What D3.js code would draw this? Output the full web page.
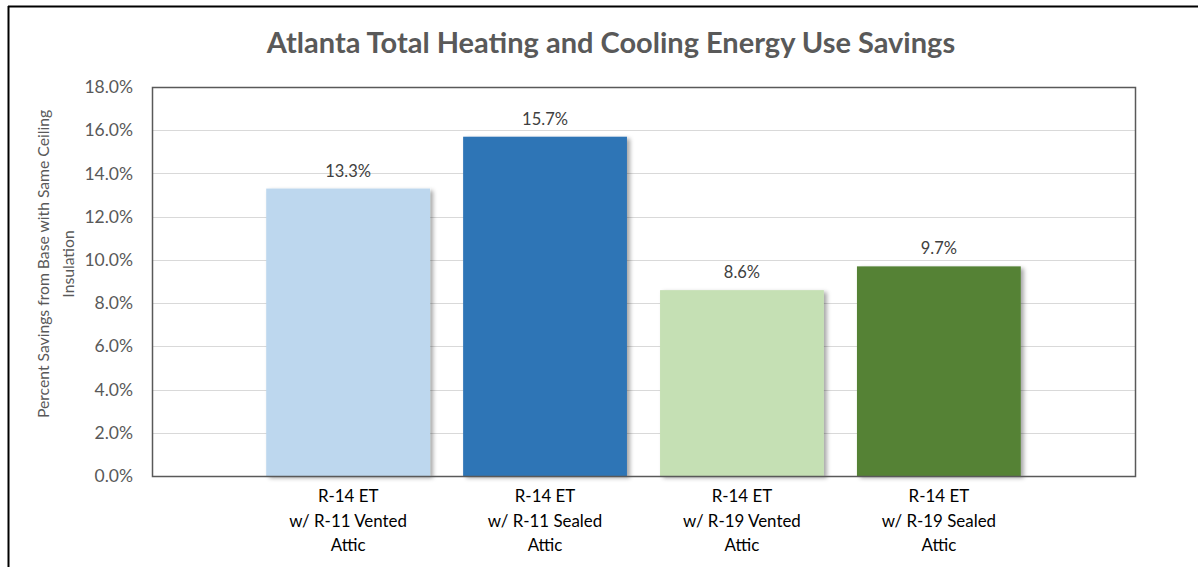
<!DOCTYPE html>
<html><head><meta charset="utf-8">
<script src="https://cdn.jsdelivr.net/npm/d3@7"></script>
<style>
html,body{margin:0;padding:0;background:#fff;}
svg{display:block;font-family:Lato,"Open Sans",sans-serif;}
</style></head>
<body><svg id="chart" width="1198" height="567"></svg>
<script>
const categories = [
  ["R-14 ET", "w/ R-11 Vented", "Attic"],
  ["R-14 ET", "w/ R-11 Sealed", "Attic"],
  ["R-14 ET", "w/ R-19 Vented", "Attic"],
  ["R-14 ET", "w/ R-19 Sealed", "Attic"]
];
const values = [13.3, 15.7, 8.6, 9.7];
const colors = ["#bdd7ee", "#2e75b6", "#c5e0b4", "#548235"];
const yTicks = [0, 2, 4, 6, 8, 10, 12, 14, 16, 18];
const title = "Atlanta Total Heating and Cooling Energy Use Savings";
const yTitle = ["Percent Savings from Base with Same Ceiling", "Insulation"];

const svg = d3.select("#chart");
const plot = {left: 152, right: 1135, top: 87, bottom: 476};

const defs = svg.append("defs");
const f = defs.append("filter").attr("id", "shadow").attr("x", "-10%").attr("y", "-10%").attr("width", "130%").attr("height", "130%");
f.append("feDropShadow").attr("dx", 3).attr("dy", 2).attr("stdDeviation", 2).attr("flood-color", "#000").attr("flood-opacity", 0.35);

// outer frame (top and left)
svg.append("line").attr("x1", 8).attr("x2", 1198).attr("y1", 6.5).attr("y2", 6.5).attr("stroke", "#000").attr("stroke-width", 2);
svg.append("line").attr("x1", 8.5).attr("x2", 8.5).attr("y1", 6).attr("y2", 567).attr("stroke", "#000").attr("stroke-width", 2);

const idx = categories.map((d, i) => i);
const x = d3.scaleBand().domain(idx).range([plot.left, plot.right]).paddingInner(0.168).paddingOuter(0.58);
const y = d3.scaleLinear().domain([0, 18]).range([plot.bottom, plot.top]);

// gridlines
svg.append("g").selectAll("line").data(yTicks.filter(t => t > 0 && t < 18)).join("line")
  .attr("x1", plot.left).attr("x2", plot.right)
  .attr("y1", d => Math.round(y(d)) + 0.5).attr("y2", d => Math.round(y(d)) + 0.5)
  .attr("stroke", "#d9d9d9").attr("stroke-width", 1);

// bars
svg.append("g").selectAll("rect").data(values).join("rect")
  .attr("x", (d, i) => x(i)).attr("width", x.bandwidth())
  .attr("y", d => y(d)).attr("height", d => y(0) - y(d))
  .attr("fill", (d, i) => colors[i]).attr("filter", "url(#shadow)");

// plot border
svg.append("rect").attr("x", plot.left + 0.5).attr("y", plot.top + 0.5)
  .attr("width", plot.right - plot.left).attr("height", plot.bottom - plot.top)
  .attr("fill", "none").attr("stroke", "#595959").attr("stroke-width", 1.5);

// y axis
const yAxis = d3.axisLeft(y).tickValues(yTicks).tickFormat(d => d.toFixed(1) + "%").tickSize(0).tickPadding(0);
const ya = svg.append("g").attr("transform", `translate(133,0)`).call(yAxis);
ya.select(".domain").remove();
ya.selectAll("text").attr("fill", "#595959").attr("font-size", 17.5).attr("font-family", "Lato,sans-serif");

// value labels
svg.append("g").selectAll("text").data(values).join("text")
  .attr("x", (d, i) => x(i) + x.bandwidth() / 2).attr("y", d => y(d) - 12)
  .attr("text-anchor", "middle").attr("fill", "#404040").attr("font-size", 16.5)
  .text(d => d.toFixed(1) + "%");

// x axis labels
const xa = svg.append("g").selectAll("text").data(categories).join("text")
  .attr("text-anchor", "middle").attr("fill", "#000").attr("font-size", 16.9)
  .attr("transform", (d, i) => `translate(${x(i) + x.bandwidth() / 2},502)`);
xa.selectAll("tspan").data(d => d).join("tspan")
  .attr("x", 0).attr("dy", (d, j) => j === 0 ? 0 : 24.5).text(d => d);

// title
svg.append("text").attr("x", 611).attr("y", 53).attr("text-anchor", "middle")
  .attr("fill", "#595959").attr("font-size", 29).attr("font-weight", "bold").text(title);

// y title
const yt = svg.append("text").attr("transform", "translate(0,264) rotate(-90)")
  .attr("text-anchor", "middle").attr("fill", "#595959").attr("font-size", 15.7);
yt.selectAll("tspan").data(yTitle).join("tspan")
  .attr("x", 0).attr("y", (d, j) => j === 0 ? 49 : 74).text(d => d);
</script></body></html>
